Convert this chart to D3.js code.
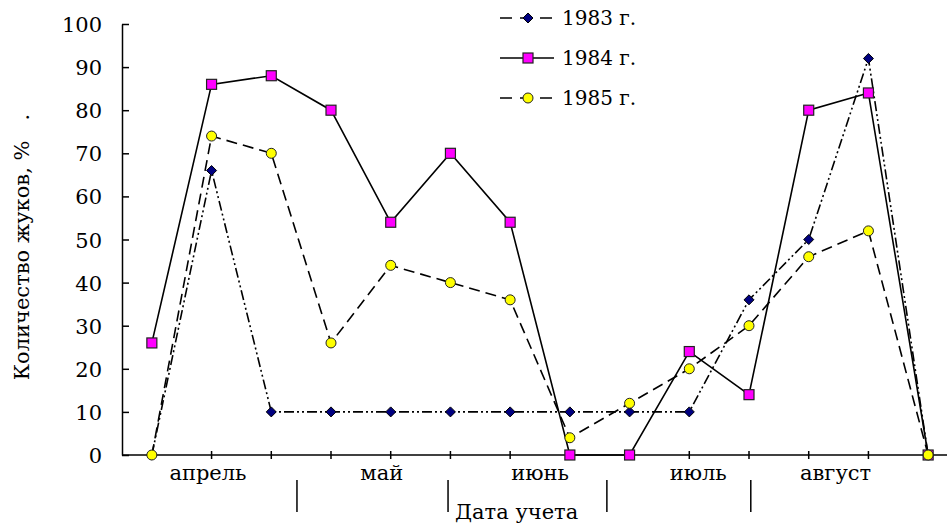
<!DOCTYPE html>
<html>
<head>
<meta charset="utf-8">
<script src="https://cdn.jsdelivr.net/npm/d3@7/dist/d3.min.js"></script>
<style>
  html, body { margin: 0; padding: 0; background: #fff; }
  svg { display: block; }
  text { font-family: "DejaVu Serif", serif; fill: #000; }
</style>
</head>
<body>
<svg id="chart" width="947" height="528"></svg>
<script>
// ---- data ----
const points = d3.range(14);
const series1983 = [0, 66, 10, 10, 10, 10, 10, 10, 10, 10, 36, 50, 92, 0];
const series1984 = [26, 86, 88, 80, 54, 70, 54, 0, 0, 24, 14, 80, 84, 0];
const series1985 = [0, 74, 70, 26, 44, 40, 36, 4, 12, 20, 30, 46, 52, 0];
const seriesNames = ["1983 г.", "1984 г.", "1985 г."];
const yTicks = [0, 10, 20, 30, 40, 50, 60, 70, 80, 90, 100];
const months = ["апрель", "май", "июнь", "июль", "август"];
const monthCenters = [0.94, 3.85, 6.5, 9.15, 11.45];   // in point-index units
const monthSeparators = [2.43, 4.96, 7.62, 10.03];     // in point-index units
const xTitle = "Дата учета";
const yTitle = "Количество жуков, %\u00a0\u00a0\u00a0.";

// ---- layout ----
const svg = d3.select("#chart");
const pLeft = 122, pTop = 24, pBottom = 455, pRight = 958;
const x = d3.scalePoint().domain(points).range([pLeft, pRight]).padding(0.5);
const xi = d3.scaleLinear().domain([0, 1]).range([x(0), x(1)]);
const y = d3.scaleLinear().domain([0, 100]).range([pBottom, pTop]);

// y axis (ticks point inward)
const yAxis = d3.axisLeft(y).tickValues(yTicks).tickSize(-7).tickSizeOuter(0).tickPadding(0);
const gy = svg.append("g").attr("transform", `translate(${pLeft},0)`).call(yAxis);
gy.select(".domain").attr("stroke", "#000").attr("stroke-width", 1.5);
gy.selectAll(".tick line").attr("stroke", "#000").attr("stroke-width", 1.5);
gy.selectAll(".tick text").attr("x", -20).style("font-family", "DejaVu Serif").style("font-size", "21px").attr("dy", "0.36em");

// x axis
svg.append("line").attr("x1", pLeft).attr("x2", 947).attr("y1", pBottom).attr("y2", pBottom)
  .attr("stroke", "#000").attr("stroke-width", 1.5);
svg.append("g").selectAll("line").data(points.slice(1)).join("line")
  .attr("x1", d => x(d)).attr("x2", d => x(d))
  .attr("y1", pBottom - 4).attr("y2", pBottom + 4)
  .attr("stroke", "#000").attr("stroke-width", 1.5);

// month labels
svg.append("g").selectAll("text").data(months).join("text")
  .attr("x", (d, i) => xi(monthCenters[i])).attr("y", 480)
  .attr("text-anchor", "middle").style("font-size", "21px").text(d => d);
svg.append("g").selectAll("line").data(monthSeparators).join("line")
  .attr("x1", d => xi(d)).attr("x2", d => xi(d))
  .attr("y1", 480).attr("y2", 512).attr("stroke", "#000").attr("stroke-width", 1.5);
svg.append("text").attr("x", 455).attr("y", 519).style("font-size", "21px").text(xTitle);

// y title
svg.append("text").attr("transform", "translate(29,247) rotate(-90)")
  .attr("text-anchor", "middle").style("font-size", "21px").text(yTitle);

// ---- series ----
const line = d3.line().x((d, i) => x(i)).y(d => y(d));
const defs = [
  { name: seriesNames[0], data: series1983, dash: "10,3,2,3,2,3", marker: "diamond", fill: "#000080" },
  { name: seriesNames[1], data: series1984, dash: null, marker: "square", fill: "#ff00ff" },
  { name: seriesNames[2], data: series1985, dash: "11,6", marker: "circle", fill: "#ffff00" }
];

function drawMarker(g, type, fill, cx, cy) {
  if (type === "diamond") {
    g.append("path").attr("d", d3.symbol(d3.symbolDiamond2, 64)())
      .attr("transform", `translate(${cx},${cy})`).attr("fill", fill).attr("stroke", "#000").attr("stroke-width", 1);
  } else if (type === "square") {
    g.append("rect").attr("x", cx - 5).attr("y", cy - 5).attr("width", 10).attr("height", 10)
      .attr("fill", fill).attr("stroke", "#222").attr("stroke-width", 1.2);
  } else {
    g.append("circle").attr("cx", cx).attr("cy", cy).attr("r", 5)
      .attr("fill", fill).attr("stroke", "#222").attr("stroke-width", 1);
  }
}

defs.forEach(s => {
  svg.append("path").datum(s.data).attr("d", line)
    .attr("fill", "none").attr("stroke", "#000").attr("stroke-width", 1.6)
    .attr("stroke-dasharray", s.dash);
});
defs.forEach(s => {
  const g = svg.append("g");
  s.data.forEach((v, i) => drawMarker(g, s.marker, s.fill, x(i), y(v)));
});

// legend
const legendY = [18, 58, 98];
defs.forEach((s, i) => {
  const g = svg.append("g");
  g.append("line").attr("x1", 500).attr("x2", 554).attr("y1", legendY[i]).attr("y2", legendY[i])
    .attr("stroke", "#000").attr("stroke-width", 1.6).attr("stroke-dasharray", s.dash ? "12,8" : null);
  drawMarker(g, s.marker, s.fill, 528, legendY[i]);
  g.append("text").attr("x", 562).attr("y", legendY[i]).attr("dy", "0.36em")
    .style("font-size", "20px").text(s.name);
});
</script>
</body>
</html>
